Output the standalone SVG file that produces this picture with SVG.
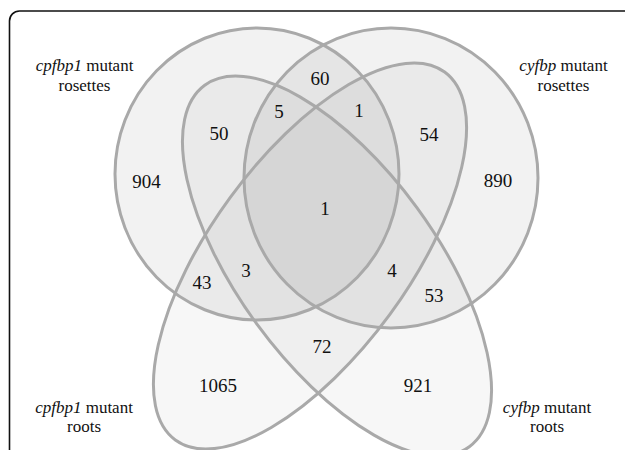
<svg xmlns="http://www.w3.org/2000/svg" width="625" height="450" viewBox="0 0 625 450">
<style>
.fc{fill:#000;fill-opacity:0.052;stroke:none}
.fr{fill:#000;fill-opacity:0.03;stroke:none}
.edge{fill:none;stroke:#a9a9a9;stroke-width:3}
</style>
<rect width="625" height="450" fill="#fff"/>
<path d="M9.5 450 V21 A10 10 0 0 1 19.5 11 H625" fill="none" stroke="#111" stroke-width="1.6"/>
<g id="fills">
<ellipse class="fc" cx="257" cy="174" rx="142" ry="146"/>
<ellipse class="fc" cx="391" cy="178" rx="147" ry="150"/>
<ellipse class="fr" cx="310" cy="256" rx="228" ry="99" transform="rotate(-53.8 310 256)"/>
<ellipse class="fr" cx="337" cy="266" rx="224" ry="99" transform="rotate(53.8 337 266)"/>
</g>
<g id="connectors"></g>
<g id="cpfbp1-rosettes">
<ellipse class="edge" cx="257" cy="174" rx="142" ry="146"/>
<text x="84.5" y="71" font-family="Liberation Serif" font-size="17" fill="#111" text-anchor="middle"><tspan font-style="italic">cpfbp1</tspan> mutant</text>
<text x="84.5" y="91" font-family="Liberation Serif" font-size="17" fill="#111" text-anchor="middle">rosettes</text>
</g>
<g id="cyfbp-rosettes">
<ellipse class="edge" cx="391" cy="178" rx="147" ry="150"/>
<text x="563.5" y="71" font-family="Liberation Serif" font-size="17" fill="#111" text-anchor="middle"><tspan font-style="italic">cyfbp</tspan> mutant</text>
<text x="563.5" y="91" font-family="Liberation Serif" font-size="17" fill="#111" text-anchor="middle">rosettes</text>
</g>
<g id="cpfbp1-roots">
<ellipse class="edge" cx="310" cy="256" rx="228" ry="99" transform="rotate(-53.8 310 256)"/>
<text x="84" y="413" font-family="Liberation Serif" font-size="17" fill="#111" text-anchor="middle"><tspan font-style="italic">cpfbp1</tspan> mutant</text>
<text x="84" y="432" font-family="Liberation Serif" font-size="17" fill="#111" text-anchor="middle">roots</text>
</g>
<g id="cyfbp-roots">
<ellipse class="edge" cx="337" cy="266" rx="224" ry="99" transform="rotate(53.8 337 266)"/>
<text x="547" y="413" font-family="Liberation Serif" font-size="17" fill="#111" text-anchor="middle"><tspan font-style="italic">cyfbp</tspan> mutant</text>
<text x="547" y="432" font-family="Liberation Serif" font-size="17" fill="#111" text-anchor="middle">roots</text>
</g>
<g id="counts">
<text x="146.5" y="188" font-family="Liberation Serif" font-size="19" fill="#111" text-anchor="middle">904</text>
<text x="498" y="187" font-family="Liberation Serif" font-size="19" fill="#111" text-anchor="middle">890</text>
<text x="320" y="85" font-family="Liberation Serif" font-size="19" fill="#111" text-anchor="middle">60</text>
<text x="279" y="118" font-family="Liberation Serif" font-size="19" fill="#111" text-anchor="middle">5</text>
<text x="359" y="117" font-family="Liberation Serif" font-size="19" fill="#111" text-anchor="middle">1</text>
<text x="219" y="140" font-family="Liberation Serif" font-size="19" fill="#111" text-anchor="middle">50</text>
<text x="429" y="141" font-family="Liberation Serif" font-size="19" fill="#111" text-anchor="middle">54</text>
<text x="325" y="215" font-family="Liberation Serif" font-size="19" fill="#111" text-anchor="middle">1</text>
<text x="246" y="277" font-family="Liberation Serif" font-size="19" fill="#111" text-anchor="middle">3</text>
<text x="392" y="277" font-family="Liberation Serif" font-size="19" fill="#111" text-anchor="middle">4</text>
<text x="202" y="289" font-family="Liberation Serif" font-size="19" fill="#111" text-anchor="middle">43</text>
<text x="434" y="302" font-family="Liberation Serif" font-size="19" fill="#111" text-anchor="middle">53</text>
<text x="322" y="353" font-family="Liberation Serif" font-size="19" fill="#111" text-anchor="middle">72</text>
<text x="218" y="392" font-family="Liberation Serif" font-size="19" fill="#111" text-anchor="middle">1065</text>
<text x="418" y="392" font-family="Liberation Serif" font-size="19" fill="#111" text-anchor="middle">921</text>
</g>
</svg>
